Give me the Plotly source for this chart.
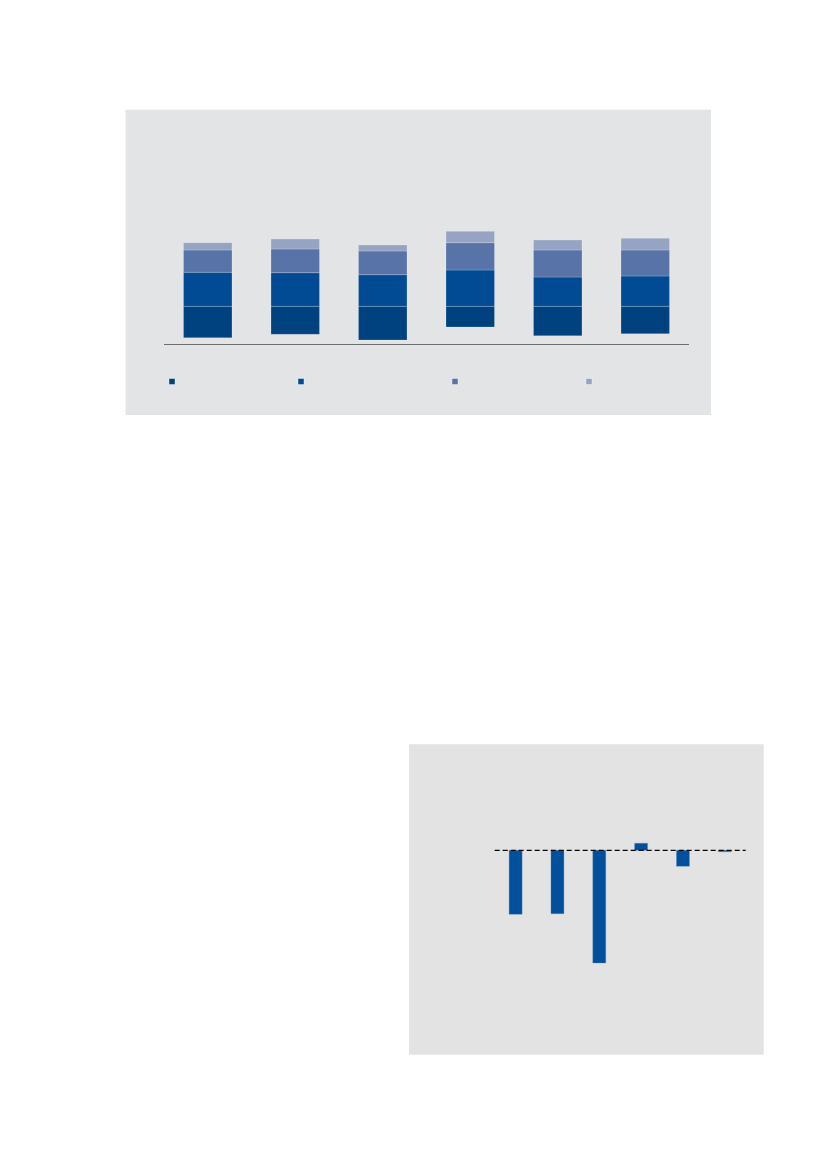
import plotly.graph_objects as go

W, H = 827, 1169
PAGE_OFFSET = 8  # default body margin of the page

# top chart: stacked segments per period (dark segment sits below zero)
periods = ["P1", "P2", "P3", "P4", "P5", "P6"]
seg_dark = [-31.4, -28.0, -33.7, -20.7, -29.4, -27.4]
seg_blue = [34.0, 33.6, 31.6, 36.3, 29.3, 30.3]
seg_mid = [22.3, 23.7, 23.7, 27.3, 27.0, 26.0]
seg_light = [7.3, 10.0, 6.0, 11.4, 10.0, 11.7]

# bottom chart: change per period
changes = [-64.0, -63.4, -112.7, 7.0, -16.0, -1.4]

COLORS = ["#00417f", "#004b93", "#5873a8", "#96a3c3"]
PANEL_TOP = "#e3e4e6"
PANEL_BOTTOM = "#e3e3e3"


def px_x(v):
    return (v - PAGE_OFFSET) / W


def px_y(v):
    return 1 - (v - PAGE_OFFSET) / H


fig = go.Figure()

for vals, col in zip([seg_dark, seg_blue, seg_mid, seg_light], COLORS):
    fig.add_trace(go.Bar(x=periods, y=vals, marker=dict(color=col, line=dict(color="rgba(255,255,255,0.25)", width=0.8)),
                         showlegend=False, xaxis="x", yaxis="y"))

# legend squares, one legend each so they can sit at uneven spacing
legend_x = [172, 301, 455, 589]
for i, col in enumerate(COLORS):
    lg = "legend" if i == 0 else f"legend{i + 1}"
    fig.add_trace(go.Scatter(x=[None], y=[None], mode="markers", name="",
                             marker=dict(symbol="square", size=6, color=col,
                                         line=dict(color="rgba(255,255,255,0.5)", width=0.8)),
                             legend=lg, showlegend=True, xaxis="x", yaxis="y"))

fig.add_trace(go.Bar(x=periods, y=changes, width=0.31,
                     marker=dict(color="#00509b", line=dict(color="rgba(90,140,200,0.6)", width=0.6)),
                     showlegend=False, xaxis="x2", yaxis="y2"))

axis_off = dict(showticklabels=False, showgrid=False, zeroline=False, ticks="")

layout_legends = {}
for i, lx in enumerate(legend_x):
    key = "legend" if i == 0 else f"legend{i + 1}"
    layout_legends[key] = dict(x=px_x(lx - 20), y=px_y(381.5), xanchor="left", yanchor="middle",
                               bgcolor="rgba(0,0,0,0)", orientation="h", itemwidth=30,
                               font=dict(size=1), tracegroupgap=0)

fig.update_layout(
    width=W, height=H, autosize=False,
    margin=dict(l=0, r=0, t=0, b=0),
    paper_bgcolor="white", plot_bgcolor="rgba(0,0,0,0)",
    barmode="relative",
    xaxis=dict(domain=[px_x(164), px_x(689)], anchor="y", showline=True, linecolor="#6e6e6e",
               linewidth=1.2, **axis_off),
    yaxis=dict(domain=[px_y(344), px_y(150)], anchor="x", range=[-37.7, 156.3], showline=False, **axis_off),
    xaxis2=dict(domain=[px_x(494.7), px_x(745.7)], anchor="y2", showline=False, **axis_off),
    yaxis2=dict(domain=[px_y(1040), px_y(760)], anchor="x2", range=[-(1040 - 850.3), 850.3 - 760],
                showline=False, **axis_off),
    bargap=0.446,
    shapes=[
        dict(type="rect", xref="paper", yref="paper", x0=px_x(125.5), x1=px_x(711), y0=px_y(415), y1=px_y(109.7),
             fillcolor=PANEL_TOP, line=dict(width=0), layer="below"),
        dict(type="rect", xref="paper", yref="paper", x0=px_x(409), x1=px_x(763.7), y0=px_y(1054.7), y1=px_y(744.3),
             fillcolor=PANEL_BOTTOM, line=dict(width=0), layer="below"),
        dict(type="line", xref="x2 domain", yref="y2", x0=0, x1=1, y0=0, y1=0,
             line=dict(color="black", width=1.3, dash="5px,3px")),
    ],
    **layout_legends,
)

fig.write_html("out.html")
